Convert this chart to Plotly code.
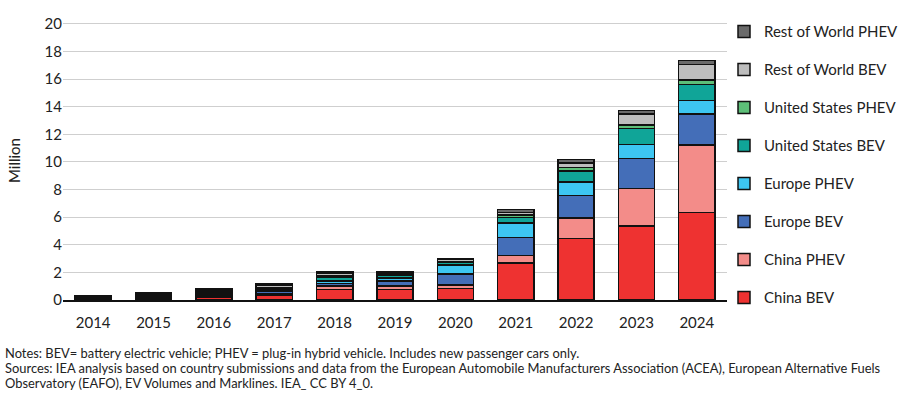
import plotly.graph_objects as go

years = ["2014", "2015", "2016", "2017", "2018", "2019", "2020", "2021", "2022", "2023", "2024"]

china_bev = [0.05, 0.15, 0.22, 0.36, 0.77, 0.77, 0.84, 2.68, 4.44, 5.37, 6.35]
china_phev = [0.03, 0.06, 0.08, 0.10, 0.23, 0.23, 0.24, 0.53, 1.48, 2.71, 4.87]
europe_bev = [0.05, 0.08, 0.10, 0.15, 0.20, 0.37, 0.79, 1.30, 1.63, 2.16, 2.23]
europe_phev = [0.04, 0.10, 0.10, 0.10, 0.18, 0.23, 0.65, 1.05, 1.01, 1.03, 0.99]
us_bev = [0.06, 0.07, 0.09, 0.10, 0.24, 0.20, 0.20, 0.43, 0.79, 1.13, 1.17]
us_phev = [0.05, 0.04, 0.07, 0.09, 0.12, 0.08, 0.07, 0.17, 0.24, 0.28, 0.32]
row_bev = [0.04, 0.04, 0.12, 0.20, 0.20, 0.15, 0.15, 0.19, 0.34, 0.77, 1.11]
row_phev = [0.02, 0.02, 0.05, 0.10, 0.08, 0.05, 0.05, 0.20, 0.26, 0.27, 0.31]

series_names = ["China BEV", "China PHEV", "Europe BEV", "Europe PHEV",
                "United States BEV", "United States PHEV",
                "Rest of World BEV", "Rest of World PHEV"]
series_values = [china_bev, china_phev, europe_bev, europe_phev,
                 us_bev, us_phev, row_bev, row_phev]
series_colors = ["#EE3231", "#F38C89", "#446EB8", "#3DC6F2",
                 "#10A598", "#5DBF78", "#BDBDBD", "#6A6A6A"]

y_ticks = [0, 2, 4, 6, 8, 10, 12, 14, 16, 18, 20]

notes_lines = [
    "Notes: BEV= battery electric vehicle; PHEV = plug-in hybrid vehicle. Includes new passenger cars only.",
    "Sources: IEA analysis based on country submissions and data from the European Automobile Manufacturers Association (ACEA), European Alternative Fuels",
    "Observatory (EAFO), EV Volumes and Marklines. IEA_ CC BY 4_0.",
]

FONT = "Lato"
TXT = "#222222"

fig = go.Figure()
n = len(series_names)
for i, (name, vals, col) in enumerate(zip(series_names, series_values, series_colors)):
    fig.add_trace(go.Bar(
        x=years, y=vals, name=name,
        marker=dict(color=col, line=dict(color="#111111", width=1.5)),
        legendgroup=f"g{i}",
        legendrank=100 * (n - i),
    ))

fig.update_layout(
    barmode="stack",
    bargap=0.4,
    width=900, height=397,
    margin=dict(l=63, r=173, t=21, b=97, autoexpand=False),
    paper_bgcolor="white",
    plot_bgcolor="white",
    font=dict(family=FONT, color=TXT, size=15),
    showlegend=True,
    legend=dict(
        traceorder="grouped",
        x=(724 - 63) / 664, xanchor="left",
        y=1.021, yanchor="top",
        font=dict(family=FONT, size=15, color=TXT),
        tracegroupgap=15.5,
        itemwidth=30,
        maxheight=397,
        bgcolor="rgba(0,0,0,0)",
    ),
    xaxis=dict(
        showgrid=False,
        showline=True, linecolor="#111111", linewidth=2,
        ticks="", tickfont=dict(size=15, color=TXT),
        ticklabelstandoff=8,
    ),
    yaxis=dict(
        range=[0, 20.2],
        tickvals=y_ticks,
        showgrid=True, gridcolor="#CFCFCF", gridwidth=1,
        zeroline=False,
        showline=False,
        ticks="",
        tickfont=dict(size=15, color=TXT),
        title=dict(text="Million", font=dict(size=15, color=TXT), standoff=20),
    ),
)

for j, line in enumerate(notes_lines):
    fig.add_annotation(
        text=line, xref="paper", yref="paper",
        x=-60 / 664, xanchor="left",
        y=-(353 - 300) / 279, yanchor="middle",
        yshift=-15 * j,
        showarrow=False,
        font=dict(family=FONT, size=12.9, color=TXT),
        align="left",
    )

fig.write_html(
    "out.html",
    config={"displayModeBar": False},
    post_script="document.body.style.margin='0';document.body.style.padding='0';",
)
